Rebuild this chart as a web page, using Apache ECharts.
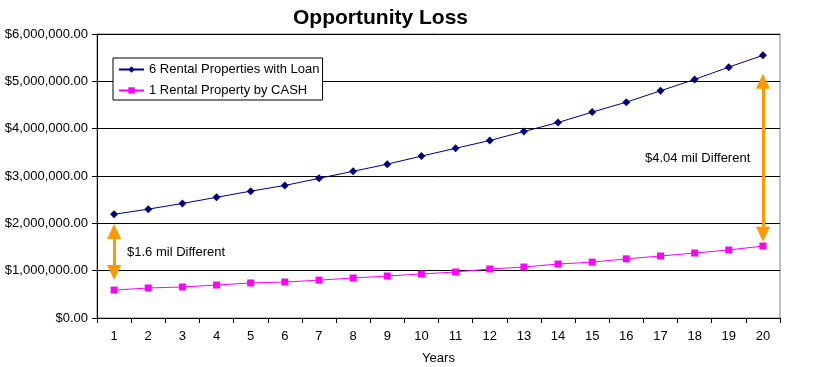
<!DOCTYPE html>
<html><head><meta charset="utf-8">
<script src="https://cdn.jsdelivr.net/npm/echarts@6/dist/echarts.min.js"></script>
<style>html,body{margin:0;padding:0;background:#fff}#c{width:827px;height:367px}</style>
</head><body><div id="c"></div>
<script>
var years = ['1','2','3','4','5','6','7','8','9','10','11','12','13','14','15','16','17','18','19','20'];
var loanSeries = [2190000,2300000,2420000,2550000,2680000,2800000,2950000,3100000,3250000,3420000,3585000,3750000,3940000,4130000,4350000,4560000,4800000,5040000,5300000,5550000];
var cashSeries = [590000,634000,655000,697000,740000,760000,800000,845000,887000,930000,972000,1035000,1077000,1140000,1180000,1250000,1310000,1373000,1437000,1520000];
var seriesNames = ['6 Rental Properties with Loan','1 Rental Property by CASH'];
var arrowLeft = {x:'1', from:1830000, to:960000};
var arrowRight = {x:'20', from:5000000, to:1770000};
var noteLeft = '$1.6 mil Different';
var noteRight = '$4.04 mil Different';

var font = 'Liberation Sans, Arial, sans-serif';
function money(v){
  return '$' + Number(v).toLocaleString('en-US',{minimumFractionDigits:2,maximumFractionDigits:2});
}
var chart = echarts.init(document.getElementById('c'));
chart.setOption({
  animation:false,
  backgroundColor:'#fff',
  textStyle:{fontFamily:font},
  title:{text:'Opportunity Loss',left:288,top:3,textStyle:{fontFamily:font,fontSize:21,fontWeight:'bold',color:'#000'}},
  grid:{left:97,right:47,top:34,bottom:49,containLabel:false,outerBoundsMode:'none',show:true,borderColor:'#808080',borderWidth:1,backgroundColor:'#fff'},
  legend:{
    orient:'vertical',left:113,top:58,padding:[5,3,3,5],itemGap:8,
    borderColor:'#000',borderWidth:1,backgroundColor:'#fff',
    itemWidth:25,itemHeight:8,
    textStyle:{fontFamily:font,fontSize:13,color:'#000'},
    data:seriesNames
  },
  xAxis:{
    type:'category',data:years,boundaryGap:true,
    name:'Years',nameLocation:'middle',nameGap:34,
    nameTextStyle:{fontFamily:font,fontSize:13,color:'#000'},
    axisLine:{lineStyle:{color:'#000',width:1}},
    axisTick:{show:true,length:5,inside:false,lineStyle:{color:'#000'}},
    axisLabel:{fontFamily:font,fontSize:13,color:'#000',margin:12,interval:0},
    splitLine:{show:false}
  },
  yAxis:{
    type:'value',min:0,max:6000000,interval:1000000,
    axisLine:{show:true,lineStyle:{color:'#000',width:1}},
    axisTick:{show:true,length:5,lineStyle:{color:'#000'}},
    axisLabel:{fontFamily:font,fontSize:13,color:'#000',margin:9,formatter:money},
    splitLine:{show:true,lineStyle:{color:'#000',width:1}}
  },
  series:[
    {name:seriesNames[0],type:'line',data:loanSeries,symbol:'diamond',symbolSize:8,showAllSymbol:true,
     itemStyle:{color:'#000080'},lineStyle:{color:'#000080',width:1},
     markLine:{silent:true,symbol:['triangle','triangle'],symbolSize:[14,15],symbolOffset:0,
       lineStyle:{color:'#FF9900',width:3,type:'solid'},label:{show:false},emphasis:{disabled:true},
       data:[
         [{coord:[arrowLeft.x,arrowLeft.from]},{coord:[arrowLeft.x,arrowLeft.to]}],
         [{coord:[arrowRight.x,arrowRight.from]},{coord:[arrowRight.x,arrowRight.to]}]
       ]}
    },
    {name:seriesNames[1],type:'line',data:cashSeries,symbol:'rect',symbolSize:7,showAllSymbol:true,
     itemStyle:{color:'#FF00FF'},lineStyle:{color:'#FF00FF',width:1}}
  ],
  graphic:[
    {type:'text',left:127,top:246,style:{text:noteLeft,font:'13px '+font,fill:'#000'}},
    {type:'text',left:645,top:152,style:{text:noteRight,font:'13px '+font,fill:'#000'}}
  ]
});
</script></body></html>
